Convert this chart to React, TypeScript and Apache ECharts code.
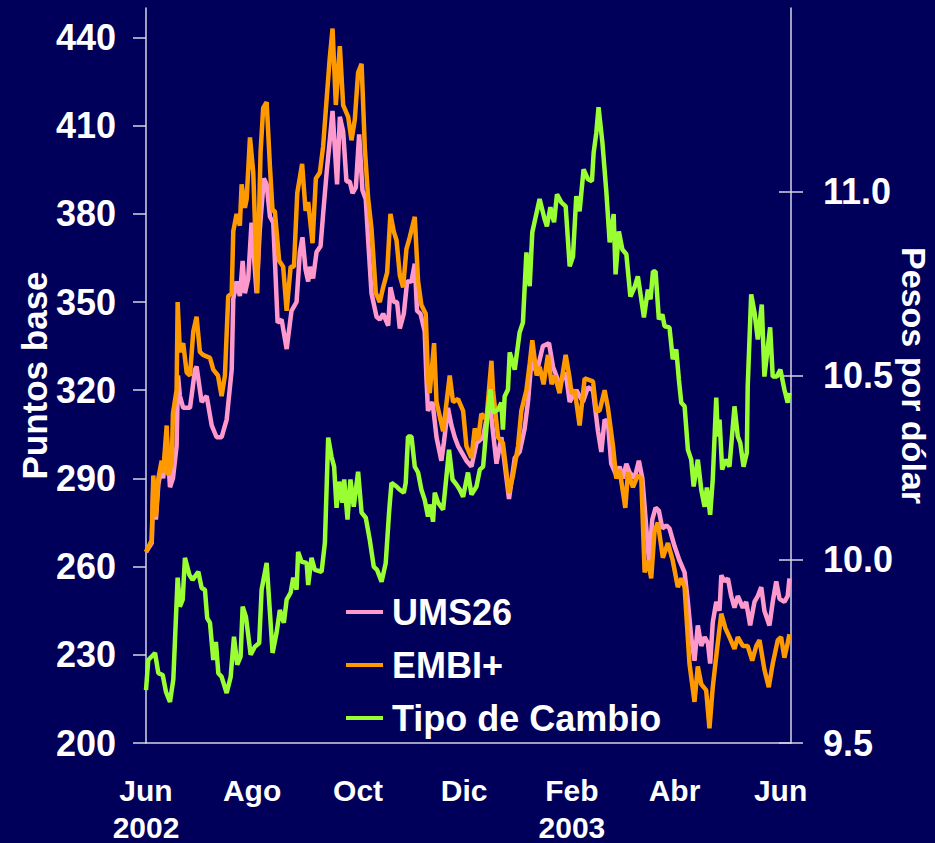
import React, { useEffect, useRef } from "react";
import * as echarts from "echarts";

// x = days since 1 Jun 2002
const monthDays = [0, 61, 122, 183, 245, 304, 365];
const monthLabels = ["Jun\n2002", "Ago", "Oct", "Dic", "Feb\n2003", "Abr", "Jun"];
const leftTicks = [200, 230, 260, 290, 320, 350, 380, 410, 440];
const rightTicks = [9.5, 10.0, 10.5, 11.0];

const ums26: [number, number][] = [
  [0, 265], [3.3, 268], [4.2, 288], [5.7, 276], [7.1, 288], [9, 294], [9.9, 290], [11.9, 305], [13.8, 287],
  [15.5, 290], [17.6, 301], [18.4, 325], [19.5, 318], [21.4, 314], [25.3, 314], [28.2, 327], [29.1, 328],
  [32, 316], [34.9, 318], [37.8, 308], [40.6, 304], [43.5, 304], [46.4, 310], [49.3, 327], [50.2, 351],
  [52.1, 357], [54, 352], [55.6, 364], [56.9, 353], [58.8, 358], [60.7, 377], [63.6, 353], [65.5, 375],
  [67.8, 392], [69.4, 390], [71.3, 379], [73.2, 377], [75.7, 343], [78, 344], [80.9, 334], [83.7, 347],
  [86.6, 350], [88.5, 367], [90, 372], [91.8, 361], [93.3, 357], [94.3, 362], [96.1, 358], [98.1, 367],
  [100.4, 369], [101.9, 380], [103.9, 394], [105.7, 405], [107.3, 415], [109.9, 390], [111.5, 413],
  [113.4, 408], [115.3, 391], [117.2, 391], [118.8, 387], [120.7, 389], [122.6, 407], [124.5, 388],
  [126.4, 385], [127.8, 371], [129.7, 353], [132.6, 345], [134.5, 344], [136.4, 346], [139.3, 342],
  [140.6, 355], [142.5, 350], [144.4, 350], [146, 341], [148.3, 346], [150.2, 357], [152.7, 357],
  [154.6, 363], [155.9, 347], [157.9, 346], [160.3, 340], [161.3, 324], [162.2, 313], [164.8, 316],
  [167.1, 304], [169.9, 296], [171.3, 302], [173.7, 314], [175.7, 308], [177.6, 304], [179.5, 301],
  [182.4, 298], [184.3, 296], [187.2, 294], [190.1, 302], [193.9, 304], [197.7, 316], [201.6, 295],
  [204.4, 304], [206.3, 295], [208.8, 283], [212.1, 297], [214.9, 299], [217.8, 307], [219.7, 316],
  [221.7, 330], [224.7, 326], [228.3, 335], [231.8, 336], [234.1, 328], [237.9, 322], [241.4, 326],
  [243.7, 316], [247.5, 320], [251.3, 316], [254.2, 321], [257.1, 320], [260, 306], [261.9, 299],
  [263.8, 310], [265.7, 309], [267.6, 295], [270.5, 291], [272.4, 294], [274.3, 290], [276.3, 295],
  [278.2, 292], [281, 290], [283.5, 296], [285.5, 290], [287.4, 276], [289.3, 262], [291.2, 276],
  [293.1, 280], [295, 279], [297, 273], [299.3, 274], [301.1, 273], [304, 267], [306.9, 262], [309.8, 258],
  [311.7, 248], [313.6, 236], [315.5, 228], [317.4, 240], [319.4, 233], [321.3, 236], [323.2, 234],
  [324.5, 227], [326, 241], [328, 248], [329.9, 245], [330.9, 257], [332.8, 255], [334.7, 256], [336.6, 250],
  [338.5, 246], [340.4, 250], [343.3, 246], [345.2, 248], [347.5, 240], [350, 248], [351.9, 250],
  [353.9, 253], [355.7, 245], [358.6, 240], [360.5, 248], [362.5, 255], [364.4, 249], [367.2, 248],
  [369.1, 250], [370.1, 256],
];

const embi: [number, number][] = [
  [0, 265], [3.3, 269], [4.2, 291], [5.7, 277], [7.1, 290], [9, 296], [9.9, 292], [11.9, 308], [12.8, 291],
  [14.8, 295], [15.5, 312], [17.6, 320], [18.2, 350], [19.5, 333], [21.4, 336], [23.4, 326], [25.3, 325],
  [27.2, 340], [29.1, 345], [31, 333], [32.8, 332], [36.8, 331], [38.7, 327], [41.4, 325], [43.5, 318],
  [45.4, 325], [47.3, 352], [49.3, 353], [50.2, 374], [52.1, 380], [54, 376], [55, 390], [56.9, 382],
  [57.9, 385], [59.8, 406], [61.7, 394], [64, 353], [65.9, 401], [67.4, 416], [69.4, 418], [71.3, 396],
  [72.8, 381], [74.1, 381], [76.6, 364], [78.9, 362], [80.9, 347], [83.2, 362], [85.1, 362], [87, 387],
  [89.8, 397], [91.8, 381], [93.3, 384], [95.8, 370], [97.7, 392], [100, 394], [101.9, 403], [103.9, 419],
  [105.7, 433], [107.3, 443], [109.2, 417], [111.5, 437], [113.4, 417], [116.3, 413], [118.2, 405],
  [120.1, 412], [122, 428], [124, 431], [125.9, 402], [127.8, 385], [129.7, 375], [132.2, 353],
  [134.5, 350], [136.4, 355], [138.7, 360], [140.6, 380], [142.5, 374], [144.1, 371], [146, 359],
  [147.9, 355], [149.8, 368], [151.7, 372], [154.6, 379], [156.5, 357], [158.4, 349], [160.9, 346],
  [162.2, 324], [163.2, 319], [165.7, 336], [167.1, 316], [170.9, 306], [174.7, 325], [176.6, 316],
  [179.5, 317], [182.4, 313], [184.3, 301], [187.2, 297], [189.1, 307], [191, 303], [192.9, 312],
  [195.8, 310], [198.7, 330], [199.6, 320], [202.5, 304], [205.3, 302], [208.8, 285], [211.1, 291],
  [214, 301], [215.9, 313], [218.8, 320], [220.7, 329], [222.2, 337], [224.7, 325], [226.4, 328],
  [228.7, 322], [231.2, 332], [233.3, 322], [235.1, 325], [237.9, 319], [241.4, 332], [243.7, 324],
  [244.7, 319], [246.6, 320], [249.4, 308], [252.3, 324], [257.1, 323], [259, 313], [260.9, 313],
  [263.8, 320], [265.7, 314], [268.6, 301], [270.5, 290], [272.4, 293], [275.7, 280], [277.2, 292],
  [280.1, 287], [282.9, 291], [284.9, 290], [286.8, 258], [288.7, 262], [290.6, 256], [292.5, 272],
  [294.4, 275], [297.3, 263], [300.2, 268], [303, 262], [305.9, 253], [307.9, 256], [309.8, 253],
  [312.6, 227], [315.5, 214], [317.4, 226], [319.4, 220], [322.2, 218], [324.1, 205], [326, 219],
  [328.3, 231], [330.9, 244], [333.3, 239], [335.6, 236], [338.5, 232], [340.4, 236], [343.3, 233],
  [346.1, 233], [348.7, 228], [351, 233], [352.9, 235], [355.7, 225], [358.2, 219], [360.5, 227],
  [363.4, 235], [365.3, 236], [367.2, 229], [369.1, 234], [370.1, 237],
];

const tipoCambio: [number, number][] = [
  [0, 9.644], [1.3, 9.726], [5.2, 9.745], [7.1, 9.69], [9.6, 9.685], [11.5, 9.639], [13.8, 9.612],
  [15.7, 9.672], [18.2, 9.95], [19.5, 9.871], [21.1, 9.89], [22.4, 10.004], [24.9, 9.958], [26.8, 9.944],
  [30.1, 9.966], [32, 9.922], [33.9, 9.917], [35.2, 9.84], [36.8, 9.827], [38.7, 9.726], [40.2, 9.775],
  [41.6, 9.69], [43.5, 9.68], [46.4, 9.636], [48.7, 9.68], [50.6, 9.789], [52.5, 9.713], [54.4, 9.735],
  [55.6, 9.871], [57.5, 9.843], [60.2, 9.74], [62.6, 9.762], [65.1, 9.772], [66.5, 9.917], [69.4, 9.99],
  [71.3, 9.854], [72.8, 9.745], [75.1, 9.8], [77, 9.862], [79.3, 9.827], [80.9, 9.89], [83.2, 9.909],
  [84.7, 9.95], [86.6, 9.917], [87.5, 10.02], [89.5, 9.993], [92.4, 9.99], [93.3, 9.93], [95.2, 10.004],
  [97.1, 9.971], [101, 9.966], [102.9, 10.045], [104.8, 10.331], [106.7, 10.279], [108.2, 10.252],
  [109.6, 10.14], [111.1, 10.211], [113, 10.154], [114, 10.217], [115.9, 10.108], [117.6, 10.217],
  [119.5, 10.143], [122, 10.238], [124, 10.127], [126.4, 10.113], [128.7, 10.053], [131, 9.98],
  [132.9, 9.971], [135.5, 9.939], [137.9, 9.99], [139.8, 10.127], [141.2, 10.208], [144.1, 10.198],
  [146, 10.189], [148.3, 10.181], [149.4, 10.208], [150.7, 10.334], [152.7, 10.334], [154.6, 10.252],
  [156.5, 10.236], [158.4, 10.189], [160.3, 10.162], [162.2, 10.116], [163.6, 10.149], [165.1, 10.102],
  [166.1, 10.181], [168, 10.154], [170.9, 10.135], [172.8, 10.225], [174.3, 10.298], [176.3, 10.217],
  [178.6, 10.203], [180.5, 10.189], [182.4, 10.17], [185.2, 10.236], [187.2, 10.176], [190.1, 10.198],
  [192, 10.244], [193.9, 10.252], [195.4, 10.334], [196.7, 10.407], [198.1, 10.462], [199.6, 10.399],
  [202.5, 10.407], [204.4, 10.426], [205.3, 10.353], [206.3, 10.443], [208.2, 10.462], [209.2, 10.563],
  [212.1, 10.516], [214.9, 10.617], [216.8, 10.644], [218.8, 10.835], [220.7, 10.743], [222.2, 10.89],
  [226.4, 10.98], [229.3, 10.925], [230.6, 10.906], [232.6, 10.958], [234.7, 10.917], [236.4, 10.993],
  [238.9, 10.971], [241.4, 10.96], [243.7, 10.797], [245.6, 10.824], [247.5, 10.988], [249.4, 10.947],
  [251.7, 11.061], [254.2, 11.034], [256.5, 11.029], [257.5, 11.107], [259, 11.16], [260.3, 11.23],
  [262.5, 11.135], [264.8, 10.999], [266.7, 10.862], [269, 10.939], [270.1, 10.775], [272, 10.892],
  [274, 10.843], [276.3, 10.83], [278.6, 10.715], [281, 10.74], [282.9, 10.77], [284.9, 10.707],
  [286.4, 10.658], [288.7, 10.734], [290.2, 10.707], [291.6, 10.783], [293.1, 10.783], [295, 10.653],
  [297, 10.666], [298.3, 10.634], [301.1, 10.631], [303, 10.544], [305, 10.571], [306.5, 10.489],
  [307.9, 10.426], [309.8, 10.416], [311.7, 10.298], [313.6, 10.271], [315, 10.198], [317.4, 10.271],
  [319.4, 10.189], [321.3, 10.143], [322.6, 10.195], [324.5, 10.121], [326, 10.217], [328, 10.44],
  [328.9, 10.334], [329.9, 10.38], [331.4, 10.244], [333.3, 10.271], [335.6, 10.252], [338.5, 10.416],
  [340.4, 10.334], [341.8, 10.317], [343.7, 10.252], [345.6, 10.29], [346.1, 10.47], [348.1, 10.721],
  [350, 10.672], [351.9, 10.598], [354.2, 10.693], [355.7, 10.497], [359, 10.631], [360.5, 10.497],
  [362.8, 10.497], [364.9, 10.516], [367.2, 10.462], [369.1, 10.426], [370.1, 10.453],
];

const seriesNames = ["UMS26", "EMBI+", "Tipo de Cambio"];
const seriesColors = ["#ff99cc", "#ff9900", "#99ff33"];

const FONT = "'Liberation Sans', Arial, Helvetica, sans-serif";
const AXIS_COLOR = "#d4d4e4";
const BG = "#00005a";

export default function App() {
  const ref = useRef<HTMLDivElement>(null);
  useEffect(() => {
    if (!ref.current) return;
    const chart = echarts.init(ref.current, undefined, { renderer: "svg" });
    const labelStyle = { color: "#ffffff", fontFamily: FONT, fontWeight: "bold" as const };
    chart.setOption({
      animation: false,
      backgroundColor: BG,
      grid: { left: 146, right: 144, top: 8, bottom: 100, containLabel: false, outerBoundsMode: "none" },
      legend: {
        orient: "vertical",
        left: 346,
        top: 592,
        padding: 0,
        itemGap: 13,
        itemWidth: 37,
        itemHeight: 4,
        icon: "rect",
        data: seriesNames,
        textStyle: { ...labelStyle, fontSize: 36, lineHeight: 40, padding: [0, 0, 0, 4] },
      },
      xAxis: {
        type: "value",
        min: 0,
        max: 371,
        splitLine: { show: false },
        axisLine: { lineStyle: { color: AXIS_COLOR, width: 1.5 } },
        axisTick: { show: false },
        axisLabel: {
          ...labelStyle,
          fontSize: 30,
          lineHeight: 37,
          margin: 29,
          customValues: monthDays,
          formatter: (v: number) => {
            const i = monthDays.indexOf(Math.round(v));
            return i >= 0 ? monthLabels[i] : "";
          },
        },
      },
      yAxis: [
        {
          type: "value",
          position: "left",
          min: 200,
          max: 450,
          splitLine: { show: false },
          axisLine: { show: true, lineStyle: { color: AXIS_COLOR, width: 1.5 } },
          axisTick: { show: true, length: 13, customValues: leftTicks, lineStyle: { color: AXIS_COLOR, width: 1.5 } },
          axisLabel: { ...labelStyle, fontSize: 36, margin: 30, customValues: leftTicks },
          name: "Puntos base",
          nameLocation: "middle",
          nameGap: 94,
          nameRotate: 90,
          nameMoveOverlap: false,
          nameTextStyle: { ...labelStyle, fontSize: 35, lineHeight: 35 },
        },
        {
          type: "value",
          position: "right",
          min: 9.5,
          max: 11.5,
          splitLine: { show: false },
          axisLine: { show: true, lineStyle: { color: AXIS_COLOR, width: 1.5 } },
          axisTick: { show: true, length: 12, customValues: rightTicks, lineStyle: { color: AXIS_COLOR, width: 1.5 } },
          axisLabel: {
            ...labelStyle,
            fontSize: 36,
            margin: 32,
            customValues: rightTicks,
            formatter: (v: number) => v.toFixed(1),
          },
          name: "Pesos por dólar",
          nameLocation: "middle",
          nameGap: 106,
          nameRotate: -90,
          nameMoveOverlap: false,
          nameTextStyle: { ...labelStyle, fontSize: 34, lineHeight: 34 },
        },
        {
          type: "value",
          position: "right",
          min: 9.5,
          max: 11.5,
          splitLine: { show: false },
          axisLine: { show: false },
          axisTick: { show: true, inside: true, length: 12, customValues: rightTicks, lineStyle: { color: AXIS_COLOR, width: 1.5 } },
          axisLabel: { show: false },
        },
      ],
      series: [
        {
          name: seriesNames[0],
          type: "line",
          yAxisIndex: 0,
          data: ums26,
          showSymbol: false,
          symbol: "none",
          itemStyle: { color: seriesColors[0] },
          lineStyle: { color: seriesColors[0], width: 4.5 },
        },
        {
          name: seriesNames[1],
          type: "line",
          yAxisIndex: 0,
          data: embi,
          showSymbol: false,
          symbol: "none",
          itemStyle: { color: seriesColors[1] },
          lineStyle: { color: seriesColors[1], width: 4.5 },
        },
        {
          name: seriesNames[2],
          type: "line",
          yAxisIndex: 1,
          data: tipoCambio,
          showSymbol: false,
          symbol: "none",
          itemStyle: { color: seriesColors[2] },
          lineStyle: { color: seriesColors[2], width: 4.5 },
        },
      ],
    });
    return () => chart.dispose();
  }, []);
  return (
    <div
      style={{ position: "fixed", left: 0, top: 0, width: 935, height: 843, background: BG }}
    >
      <div ref={ref} style={{ width: 935, height: 843 }} />
    </div>
  );
}
